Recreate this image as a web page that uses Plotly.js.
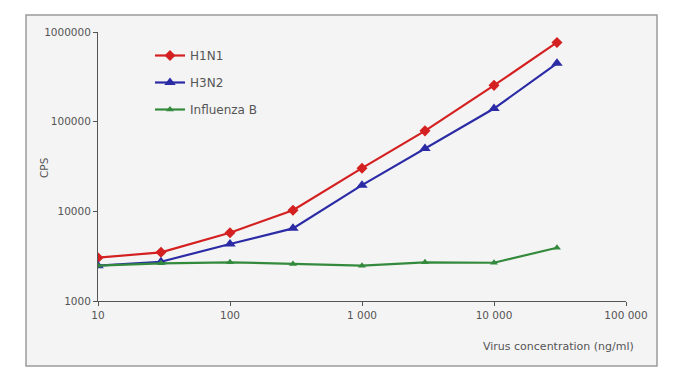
<!DOCTYPE html>
<html>
<head>
<meta charset="utf-8">
<script src="https://cdn.plot.ly/plotly-3.0.1.min.js"></script>
<style>html,body{margin:0;padding:0;background:#fff;}#chart{width:680px;height:388px;}</style>
</head>
<body>
<div id="chart"></div>
<script>
var concentrations = [10, 30, 100, 300, 1000, 3000, 10000, 30000];
var h1n1 = [3040, 3490, 5770, 10300, 30300, 79000, 254000, 765000];
var h3n2 = [2480, 2740, 4320, 6460, 19600, 50300, 140000, 447000];
var influenzaB = [2480, 2630, 2700, 2590, 2480, 2700, 2670, 3930];
var xTickVals = [10, 100, 1000, 10000, 100000];
var xTickText = ["10", "100", "1 000", "10 000", "100 000"];
var yTickVals = [1000, 10000, 100000, 1000000];
var yTickText = ["1000", "10000", "100000", "1000000"];

var W = 680, H = 388;
var L = 98, R = 54, T = 32, B = 87;
var pw = W - L - R, ph = H - T - B;
function px(x){ return (x - L) / pw; }
function py(y){ return (H - B - y) / ph; }

var traces = [
  {x: concentrations, y: h1n1, name: "H1N1", type: "scatter", mode: "lines+markers",
   line: {color: "#d42020", width: 2.2}, marker: {symbol: "diamond", size: 8.5, color: "#d42020"}, legendgroup: "a"},
  {x: concentrations, y: h3n2, name: "H3N2", type: "scatter", mode: "lines+markers",
   line: {color: "#2b2ba6", width: 2.2}, marker: {symbol: "triangle-up", size: 10, color: "#2b2ba6"}, legendgroup: "b"},
  {x: concentrations, y: influenzaB, name: "Influenza B", type: "scatter", mode: "lines+markers",
   line: {color: "#348a3c", width: 2.2}, marker: {symbol: "triangle-up", size: 7, color: "#348a3c"}, legendgroup: "c"}
];

var layout = {
  width: W, height: H,
  margin: {l: L, r: R, t: T, b: B, pad: 0},
  paper_bgcolor: "#ffffff",
  plot_bgcolor: "rgba(0,0,0,0)",
  font: {family: "DejaVu Sans, sans-serif", size: 11, color: "#555"},
  showlegend: true,
  legend: {x: px(150), y: py(41), xanchor: "left", yanchor: "top", bgcolor: "rgba(0,0,0,0)",
           font: {size: 12, color: "#555"}, tracegroupgap: 8, itemwidth: 30},
  xaxis: {type: "log", range: [1, 5], tickvals: xTickVals, ticktext: xTickText,
          showline: true, linecolor: "#555", linewidth: 1, showgrid: false, zeroline: false,
          ticks: "outside", ticklen: 4, tickcolor: "#555", tickfont: {size: 10.5, color: "#555"}},
  yaxis: {type: "log", range: [3, 6], tickvals: yTickVals, ticktext: yTickText,
          showline: true, linecolor: "#555", linewidth: 1, showgrid: false, zeroline: false,
          ticks: "outside", ticklen: 4, tickcolor: "#555", tickfont: {size: 10.5, color: "#555"}},
  shapes: [
    {type: "rect", xref: "paper", yref: "paper", x0: px(26), x1: px(657), y0: py(366), y1: py(15),
     fillcolor: "#f4f4f4", line: {color: "#9a9a9a", width: 1.5}, layer: "below"}
  ],
  annotations: [
    {text: "CPS", xref: "paper", yref: "paper", x: px(36), y: py(168), showarrow: false, textangle: -90,
     font: {size: 10.5, color: "#555"}},
    {text: "Virus concentration (ng/ml)", xref: "paper", yref: "paper", x: px(636), y: py(347),
     xanchor: "right", yanchor: "middle", showarrow: false, font: {size: 11, color: "#555"}}
  ]
};

Plotly.newPlot("chart", traces, layout, {displayModeBar: false, staticPlot: true});
</script>
</body>
</html>
